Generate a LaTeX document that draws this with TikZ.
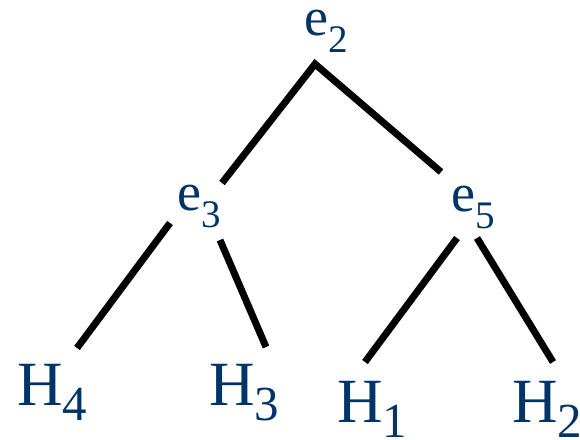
\documentclass[tikz,border=0pt]{standalone}
\usepackage{fontspec}
\setmainfont{Liberation Serif}
\definecolor{labblue}{RGB}{0,51,102}
\tikzset{
  elab/.style={anchor=base west, inner sep=0pt, text=labblue, font=\fontsize{54}{54}\selectfont},
  hlab/.style={anchor=base west, inner sep=0pt, text=labblue, font=\fontsize{63}{63}\selectfont},
  edge/.style={line width=7pt, black, line cap=butt, line join=miter}
}
\newcommand{\esub}[1]{\raisebox{-17pt}{\fontsize{39}{39}\selectfont #1}}
\newcommand{\hsub}[1]{\raisebox{-15pt}{\fontsize{49}{49}\selectfont #1}}
\begin{document}
\begin{tikzpicture}[x=1pt,y=-1pt]
\useasboundingbox (0,0) rectangle (580,439);
\node[elab] (e2) at (304,35) {e\esub{2}};
\node[elab] (e3) at (177,210) {e\esub{3}};
\node[elab] (e5) at (451,211) {e\esub{5}};
\node[hlab] (h4) at (17,405) {H\hsub{4}};
\node[hlab] (h3) at (209,405) {H\hsub{3}};
\node[hlab] (h1) at (337,422) {H\hsub{1}};
\node[hlab] (h2) at (512,422) {H\hsub{2}};
\coordinate (p2) at (315,64);
\coordinate (p2l) at (222,183);
\coordinate (p2r) at (441,172);
\coordinate (p3l) at (170,223);
\coordinate (p3r) at (220,240);
\coordinate (p5l) at (457,238);
\coordinate (p5r) at (477,238);
\coordinate (q4) at (77,348);
\coordinate (q3) at (266,347);
\coordinate (q1) at (365,362);
\coordinate (q2) at (553,362);
\draw[edge] (p2l) -- (p2) -- (p2r);
\draw[edge] (p3l) -- (q4);
\draw[edge] (p3r) -- (q3);
\draw[edge] (p5l) -- (q1);
\draw[edge] (p5r) -- (q2);
\end{tikzpicture}
\end{document}
